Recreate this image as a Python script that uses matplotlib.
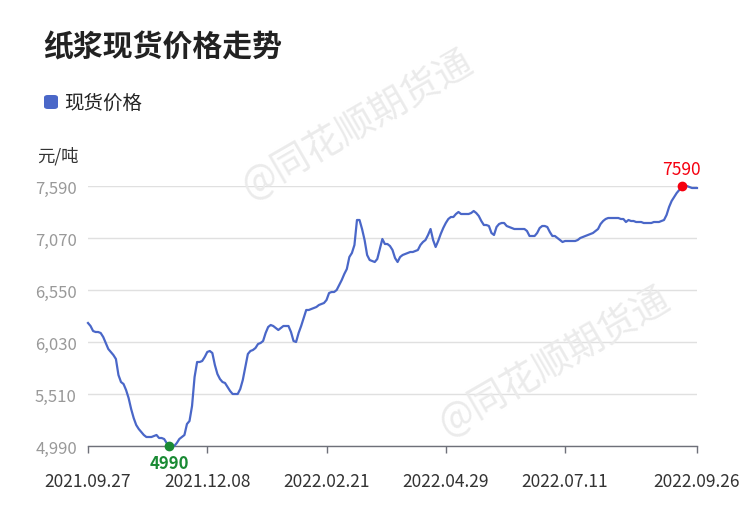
import matplotlib

matplotlib.use("Agg")
import matplotlib.pyplot as plt
from matplotlib.patches import FancyBboxPatch
from matplotlib.ticker import FixedLocator, FuncFormatter

plt.rcParams["font.family"] = ["Noto Sans CJK SC", "DejaVu Sans"]

TITLE = "纸浆现货价格走势"
SERIES_NAME = "现货价格"
UNIT = "元/吨"
WATERMARK = "@同花顺期货通"

# daily spot price, yuan/ton
prices = [
    6220, 6190, 6140, 6130, 6130, 6120, 6080, 6020, 5960, 5930,
    5900, 5860, 5700, 5630, 5610, 5550, 5470, 5360, 5270, 5200,
    5160, 5130, 5100, 5080, 5080, 5080, 5090, 5100, 5070, 5070,
    5060, 5020, 4990, 4990, 4990, 5020, 5060, 5080, 5100, 5210,
    5240, 5390, 5680, 5830, 5830, 5840, 5880, 5930, 5940, 5920,
    5800, 5710, 5660, 5630, 5620, 5580, 5540, 5510, 5510, 5510,
    5560, 5650, 5780, 5910, 5940, 5950, 5970, 6010, 6020, 6040,
    6120, 6180, 6200, 6190, 6170, 6150, 6170, 6190, 6190, 6190,
    6130, 6040, 6030, 6120, 6190, 6270, 6350, 6350, 6360, 6370,
    6380, 6400, 6410, 6420, 6450, 6520, 6530, 6530, 6550, 6600,
    6650, 6710, 6760, 6880, 6920, 7000, 7250, 7250, 7160, 7050,
    6900, 6850, 6840, 6830, 6860, 6960, 7060, 7010, 7010, 6990,
    6950, 6870, 6830, 6880, 6900, 6910, 6920, 6930, 6930, 6940,
    6950, 7000, 7030, 7050, 7100, 7160, 7050, 6980, 7040, 7110,
    7170, 7220, 7260, 7280, 7280, 7310, 7330, 7310, 7310, 7310,
    7310, 7320, 7340, 7320, 7290, 7240, 7200, 7200, 7190, 7120,
    7100, 7180, 7210, 7220, 7220, 7190, 7180, 7170, 7160, 7160,
    7160, 7160, 7160, 7140, 7090, 7090, 7090, 7120, 7170, 7190,
    7190, 7180, 7130, 7090, 7090, 7070, 7050, 7030, 7040, 7040,
    7040, 7040, 7040, 7050, 7070, 7080, 7090, 7100, 7110, 7120,
    7140, 7160, 7210, 7240, 7260, 7270, 7270, 7270, 7270, 7270,
    7260, 7260, 7230, 7250, 7240, 7240, 7230, 7230, 7230, 7220,
    7220, 7220, 7220, 7230, 7230, 7230, 7240, 7250, 7300, 7380,
    7440, 7480, 7520, 7550, 7590, 7590, 7590, 7580, 7570, 7570,
    7570,
]

date_labels = ["2021.09.27", "2021.12.08", "2022.02.21",
               "2022.04.29", "2022.07.11", "2022.09.26"]
y_ticks = [4990, 5510, 6030, 6550, 7070, 7590]

LINE_COLOR = "#4a67c8"
MIN_COLOR = "#1a8a34"
MAX_COLOR = "#f5000f"

n = len(prices)
x = list(range(n))
label_step = 47
tick_pos = [i * label_step for i in range(len(date_labels) - 1)] + [n - 1]

fig = plt.figure(figsize=(7.5, 5.1), dpi=100)
ax = fig.add_axes([88 / 750, 63 / 510, (697 - 88) / 750, 260 / 510])

ax.plot(x, prices, color=LINE_COLOR, lw=1.6, clip_on=False, zorder=3)
ax.set_xlim(0, n - 1)
ax.set_ylim(y_ticks[0], y_ticks[-1])

ax.yaxis.set_major_locator(FixedLocator(y_ticks))
ax.yaxis.set_major_formatter(FuncFormatter(lambda v, p: f"{int(v):,}"))
ax.set_xticks(tick_pos)
ax.set_xticklabels(date_labels, fontweight="light")
for lbl in ax.get_yticklabels():
    lbl.set_fontweight("light")
ax.grid(axis="y", color="#e0e0e0", lw=1)
ax.set_axisbelow(True)
for side in ("top", "right", "left"):
    ax.spines[side].set_visible(False)
ax.spines["bottom"].set_color("#6e7079")
ax.spines["bottom"].set_linewidth(1)
ax.tick_params(axis="y", length=0, pad=8, labelsize=12, labelcolor="#999999")
ax.tick_params(axis="x", length=5, width=1, color="#6e7079", pad=14,
               labelsize=12.5, labelcolor="#333333")

# min / max markers
i_min = prices.index(min(prices))
i_max = prices.index(max(prices))
ax.plot(i_min, prices[i_min], "o", color=MIN_COLOR, ms=6, clip_on=False, zorder=4)
ax.annotate(str(prices[i_min]), (i_min, prices[i_min]), xytext=(0, -6),
            textcoords="offset points", ha="center", va="top",
            color=MIN_COLOR, fontsize=12, fontweight="bold")
ax.plot(i_max, prices[i_max], "o", color=MAX_COLOR, ms=6, clip_on=False, zorder=4)
ax.annotate(str(prices[i_max]), (i_max, prices[i_max]), xytext=(0, 6),
            textcoords="offset points", ha="center", va="bottom",
            color=MAX_COLOR, fontsize=12.5)

# title, legend, unit
fig.text(43 / 750, 1 - 47 / 510, TITLE, fontsize=21.5, fontweight="bold",
         color="#222222", va="center", ha="left")
fig.patches.append(FancyBboxPatch((44 / 750, 1 - 110 / 510), 14 / 750, 14 / 510,
                                  boxstyle="round,pad=0,rounding_size=0.005",
                                  transform=fig.transFigure, color=LINE_COLOR,
                                  ec="none"))
fig.text(64 / 750, 1 - 103 / 510, SERIES_NAME, fontsize=14, color="#222222",
         va="center", ha="left")
fig.text(37 / 750, 1 - 156 / 510, UNIT, fontsize=12.5, color="#333333",
         va="center", ha="left")

# watermarks
for wx, wy in ((358, 125), (555, 362)):
    fig.text(wx / 750, 1 - wy / 510, WATERMARK, fontsize=27, color="#ebebeb",
             rotation=30, ha="center", va="center", zorder=0)

fig.savefig("out.png", dpi=100)
